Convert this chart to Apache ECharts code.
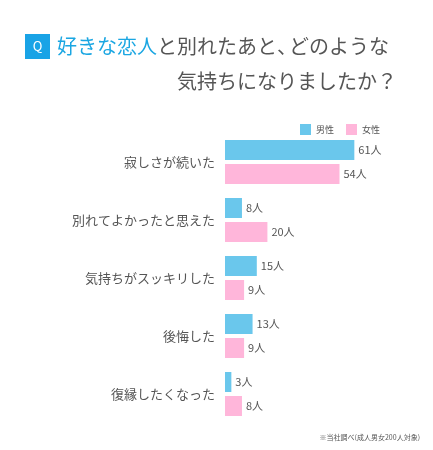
<!DOCTYPE html><html><head><meta charset="utf-8"><script src="https://cdn.jsdelivr.net/npm/echarts@6/dist/echarts.min.js"></script></head><body style="margin:0;background:#fff"><div id="c" style="width:433px;height:450px"></div><script>
const categories=["寂しさが続いた","別れてよかったと思えた","気持ちがスッキリした","後悔した","復縁したくなった"];
const male=[61,8,15,13,3];
const female=[54,20,9,9,8];
const F='"Noto Sans CJK JP"';
const c=echarts.init(document.getElementById('c'));
c.setOption({
animation:false,
textStyle:{fontFamily:F},
graphic:[
{type:'rect',shape:{x:25,y:34,width:25,height:25},style:{fill:'#19a3e6'}},
{type:'text',x:37.5,y:46.5,style:{text:'Q',fill:'#fff',font:'13px '+F,align:'center',verticalAlign:'middle'}},
{type:'text',x:57,y:46,style:{text:'{b|好きな恋人}{g|と別れたあと}{c|、}{g|どのような}',verticalAlign:'middle',rich:{b:{fill:'#1aa6e2',font:'20px '+F},g:{fill:'#555',font:'20px '+F},c:{fill:'#555',font:'20px '+F,width:12}}}},
{type:'text',x:397,y:81,style:{text:'気持ちになりましたか？',fill:'#555',font:'20px '+F,align:'right',verticalAlign:'middle'}},
{type:'text',x:420,y:437,style:{text:'※当社調べ(成人男女200人対象)',fill:'#555',font:'7px '+F,align:'right',verticalAlign:'middle'}}
],
legend:{right:48,top:119,itemWidth:11,itemHeight:11,itemGap:12,icon:'rect',textStyle:{fontSize:9,color:'#555'}},
grid:{left:225,right:14,top:133,bottom:27},
xAxis:{type:'value',min:0,max:91.5,show:false},
yAxis:{type:'category',inverse:true,data:categories,axisLine:{show:false},axisTick:{show:false},axisLabel:{fontSize:13,color:'#555',margin:10}},
series:[
{name:'男性',type:'bar',data:male,barWidth:20,barGap:'20%',itemStyle:{color:'#6ac7ec'},label:{show:true,position:'right',formatter:'{c}人',fontSize:11,color:'#555',distance:4}},
{name:'女性',type:'bar',data:female,barWidth:20,itemStyle:{color:'#ffb6da'},label:{show:true,position:'right',formatter:'{c}人',fontSize:11,color:'#555',distance:4}}
]});
</script></body></html>
